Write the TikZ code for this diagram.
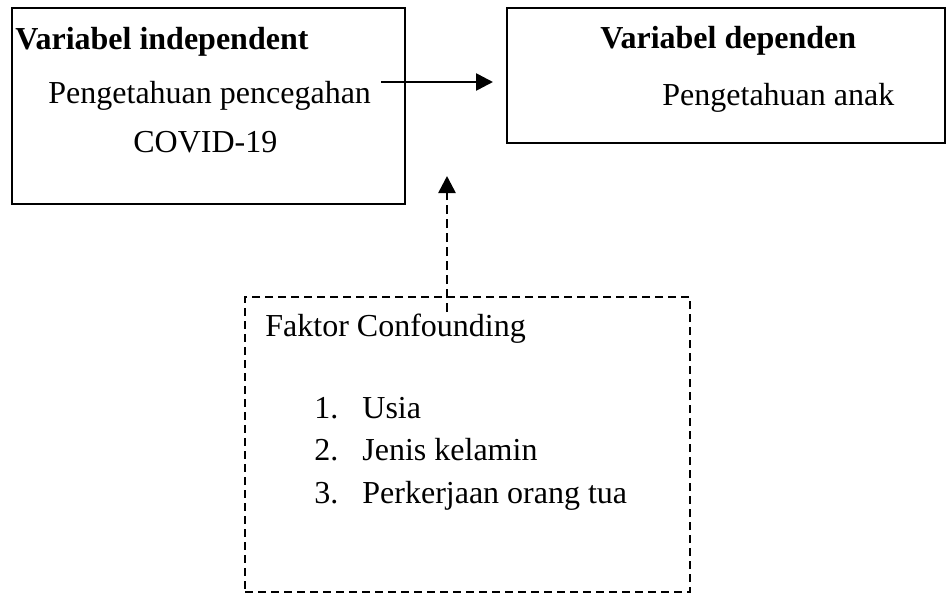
\documentclass[tikz,border=0pt]{standalone}
\usepackage{fontspec}
\setmainfont{Liberation Serif}
\usetikzlibrary{arrows.meta}
\begin{document}
\begin{tikzpicture}[x=0.5pt,y=-0.5pt,
  box/.style={draw, line width=1pt, rectangle, inner sep=0pt},
  dbox/.style={draw, line width=0.9pt, rectangle, inner sep=0pt, dash pattern=on 4pt off 2.5pt},
  txt/.style={anchor=base west, inner sep=0pt, font=\fontsize{16}{19}\selectfont},
  btxt/.style={txt, font=\fontsize{16}{19}\selectfont\bfseries},
  arr/.style={line width=1.3pt, -{Triangle[length=8.5pt,width=8.5pt]}},
  darr/.style={line width=1.3pt, dash pattern=on 4.5pt off 2.5pt, -{Triangle[length=8.5pt,width=8.5pt]}}
]
\useasboundingbox (0,0) rectangle (948,594);
\node[box, minimum width=196.5pt, minimum height=98pt] (indep) at (208.5,106) {};
\node[box, minimum width=219pt, minimum height=67.5pt] (dep) at (726,75.5) {};
\node[dbox, minimum width=222.5pt, minimum height=147.5pt] (conf) at (467.5,444.5) {};

\node[btxt] (t1) at (15,49) {Variabel independent};
\node[txt] (t2) at (48,103) {Pengetahuan pencegahan};
\node[txt] (t3) at (133,152) {COVID-19};
\node[btxt] (t4) at (600,48) {Variabel dependen};
\node[txt] (t5) at (662,105) {Pengetahuan anak};
\node[txt] (t6) at (265,336) {Faktor Confounding};
\node[txt] (n1) at (314,418) {1.};
\node[txt] (l1) at (362,418) {Usia};
\node[txt] (n2) at (314,460) {2.};
\node[txt] (l2) at (362,460) {Jenis kelamin};
\node[txt] (n3) at (314,503) {3.};
\node[txt] (l3) at (362,503) {Perkerjaan orang tua};

\coordinate (a1) at (381,82);
\coordinate (a2) at (493,82);
\coordinate (b1) at (447,312);
\coordinate (b2) at (447,176);
\draw[arr] (a1) -- (a2);
\draw[darr] (b1) -- (b2);
\end{tikzpicture}
\end{document}
